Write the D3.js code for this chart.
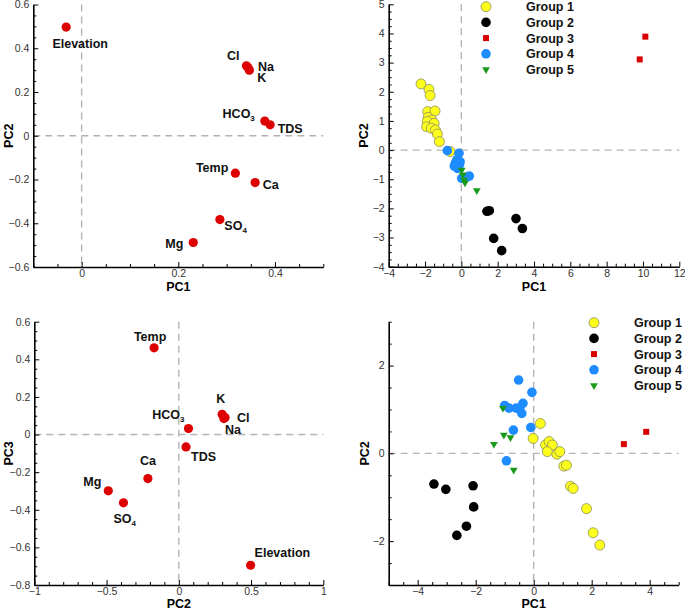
<!DOCTYPE html>
<html><head><meta charset="utf-8">
<script src="https://cdn.jsdelivr.net/npm/d3@7"></script>
<style>
body{margin:0;background:#fff}
svg text{font-family:"Liberation Sans",Arial,Helvetica,sans-serif}
</style></head><body>
<svg id="c" width="685" height="608"></svg>
<script>
// ---------- DATA ----------
const variables = ["Elevation","Cl","Na","K","HCO3","TDS","Temp","Ca","SO4","Mg"];
const loadPC1 = [-0.032,0.341,0.344,0.347,0.379,0.390,0.318,0.359,0.286,0.231];
const loadPC2 = [0.497,0.320,0.312,0.300,0.067,0.050,-0.171,-0.214,-0.383,-0.488];
const loadPC3 = [-0.695,0.090,0.085,0.108,0.032,-0.066,0.461,-0.234,-0.363,-0.299];

const groupNames = ["Group 1","Group 2","Group 3","Group 4","Group 5"];

// top-right score plot (PC1 vs PC2)
const topGroup1 = [[-2.22,2.27],[-1.78,2.08],[-1.72,1.87],[-1.85,1.32],[-1.45,1.34],[-1.83,1.12],[-1.63,1.03],[-1.88,0.98],[-1.91,0.80],[-1.50,0.92],[-1.65,0.75],[-1.43,0.69],[-1.32,0.55],[-1.21,0.29],[-0.62,-0.05]];
const topGroup2 = [[1.41,-2.10],[1.54,-2.08],[3.01,-2.35],[3.36,-2.69],[1.78,-3.03],[2.22,-3.45]];
const topGroup3 = [[10.13,3.89],[9.82,3.11]];
const topGroup4 = [[-0.77,-0.02],[-0.13,-0.11],[-0.25,-0.34],[-0.07,-0.40],[-0.33,-0.45],[-0.39,-0.55],[-0.22,-0.63],[0.44,-0.89],[0.30,-0.93],[0.02,-0.97],[-0.10,-0.50]];
const topGroup5 = [[0.02,-0.68],[0.08,-0.85],[0.15,-1.03],[0.20,-1.12],[0.85,-1.39]];

// bottom-right score plot
const botGroup1 = [[0.23,0.68],[-0.02,0.34],[0.41,0.19],[0.53,0.27],[0.64,0.19],[0.47,0.04],[0.80,-0.02],[0.90,0.04],[1.04,-0.29],[1.13,-0.27],[1.27,-0.75],[1.36,-0.80],[1.82,-1.26],[2.05,-1.81],[2.28,-2.09]];
const botGroup2 = [[-3.44,-0.70],[-3.03,-0.82],[-2.09,-0.74],[-2.07,-1.22],[-2.32,-1.66],[-2.65,-1.87]];
const botGroup3 = [[3.11,0.21],[3.88,0.49]];
const botGroup4 = [[-0.52,1.67],[-0.06,1.39],[-1.00,1.09],[-0.85,1.03],[-0.37,1.14],[-0.48,1.01],[-0.41,0.91],[-0.60,1.03],[-0.70,0.53],[-0.10,0.59],[-0.94,-0.17]];
const botGroup5 = [[-1.06,1.03],[-1.37,0.21],[-1.03,0.42],[-0.80,0.36],[-0.69,-0.38]];

// tick values
const p1XTicks = [0,0.2,0.4], p1YTicks = [-0.6,-0.4,-0.2,0,0.2,0.4,0.6];
const p2XTicks = [-4,-2,0,2,4,6,8,10,12], p2YTicks = [-4,-3,-2,-1,0,1,2,3,4,5];
const p3XTicks = [-1,-0.5,0,0.5,1], p3YTicks = [-0.8,-0.6,-0.4,-0.2,0,0.2,0.4,0.6];
const p4XTicks = [-4,-2,0,2,4], p4YTicks = [-2,0,2];

// ---------- STYLE / LAYOUT ----------
const groupStyle = [
  {shape:"circle", fill:"#ffff1e", stroke:"#8c8c5a", r:5},
  {shape:"circle", fill:"#000000", stroke:"none", r:4.8},
  {shape:"square", fill:"#d80000", stroke:"none", size:36},
  {shape:"circle", fill:"#1e8cff", stroke:"none", r:4.8},
  {shape:"triangle", fill:"#1a9a1a", stroke:"none", size:26}
];
const labelPosTop = {
  Elevation:[14,21,"middle"], Cl:[-7,-6,"end"], Na:[10,3,"start"], K:[8,12,"start"],
  HCO3:[-10,-3,"end"], TDS:[7.5,8.5,"start"], Temp:[-7,-1,"end"], Ca:[7.5,6.5,"start"],
  SO4:[4.5,10,"start"], Mg:[-10,5.5,"end"]
};
const labelPosBot = {
  Elevation:[4,-8,"start"], Cl:[12,4,"start"], Na:[1,15.5,"start"], K:[-1.5,-11,"middle"],
  HCO3:[-4,-9.5,"end"], TDS:[5,14,"start"], Temp:[-4,-7,"middle"], Ca:[0,-13.5,"middle"],
  SO4:[-10,20,"start"], Mg:[-7,-4.5,"end"]
};

const svg = d3.select("#c");

function range(a,b,s){const out=[];for(let v=a;v<=b+1e-9;v+=s)out.push(+v.toFixed(6));return out;}

function makePanel(o){
  const xs = d3.scaleLinear().domain(o.xd).range([o.x0,o.x1]);
  const ys = d3.scaleLinear().domain(o.yd).range([o.y1,o.y0]);
  const g = svg.append("g");
  g.append("line").attr("x1",xs(0)).attr("x2",xs(0)).attr("y1",o.y0).attr("y2",o.y1)
    .attr("stroke","#b4b4b4").attr("stroke-width",1.4).attr("stroke-dasharray","7,5");
  g.append("line").attr("x1",o.x0).attr("x2",o.x1).attr("y1",ys(0)).attr("y2",ys(0))
    .attr("stroke","#b4b4b4").attr("stroke-width",1.4).attr("stroke-dasharray","7,5");
  const fmt = d => (Math.abs(d)<1e-9 ? "0" : d3.format("")(+d.toFixed(2)));
  const minorX = range(o.xd[0],o.xd[1],o.mx).filter(v=>!o.xt.some(t=>Math.abs(t-v)<1e-9));
  const minorY = range(o.yd[0],o.yd[1],o.my).filter(v=>!o.yt.some(t=>Math.abs(t-v)<1e-9));
  const ax = g.append("g").attr("transform",`translate(0,${o.y1})`);
  ax.append("g").call(d3.axisBottom(xs).tickValues(minorX).tickSize(-3).tickFormat("")).call(s=>s.select(".domain").remove());
  ax.append("g").call(d3.axisBottom(xs).tickValues(o.xt).tickSize(-5).tickSizeOuter(0).tickPadding(3).tickFormat(fmt));
  const ay = g.append("g").attr("transform",`translate(${o.x0},0)`);
  ay.append("g").call(d3.axisLeft(ys).tickValues(minorY).tickSize(-3).tickFormat("")).call(s=>s.select(".domain").remove());
  ay.append("g").call(d3.axisLeft(ys).tickValues(o.yt).tickSize(-5).tickSizeOuter(0).tickPadding(4).tickFormat(fmt));
  g.selectAll(".domain").attr("stroke","#000").attr("stroke-width",1.6);
  g.selectAll(".tick line").attr("stroke","#000").attr("stroke-width",1);
  g.selectAll(".tick text").attr("font-size",10.5).attr("fill","#333");
  g.append("text").attr("x",(o.x0+o.x1)/2).attr("y",o.xtY).attr("text-anchor","middle")
    .attr("font-size",12.5).attr("font-weight","bold").text(o.xlab);
  g.append("text").attr("transform",`translate(${o.ytX},${(o.y0+o.y1)/2}) rotate(-90)`).attr("text-anchor","middle")
    .attr("font-size",12.5).attr("font-weight","bold").text(o.ylab);
  return {g,xs,ys};
}

function addLabel(g,x,y,name,pos){
  const t = g.append("text").attr("x",x+pos[0]).attr("y",y+pos[1]).attr("text-anchor",pos[2])
    .attr("font-size",12.5).attr("font-weight","bold").attr("fill","#111");
  if(name==="HCO3"||name==="SO4"){
    t.append("tspan").text(name.slice(0,-1));
    t.append("tspan").attr("font-size",8).attr("dy",3).text(name.slice(-1));
  } else t.text(name);
}

function loadingPanel(o, xv, yv, lp){
  const {g,xs,ys} = makePanel(o);
  variables.forEach((v,i)=>{
    g.append("circle").attr("cx",xs(xv[i])).attr("cy",ys(yv[i])).attr("r",4.6).attr("fill","#dd0000");
  });
  variables.forEach((v,i)=>addLabel(g,xs(xv[i]),ys(yv[i]),v,lp[v]));
}

function drawMarker(g,x,y,st){
  if(st.shape==="circle"){
    g.append("circle").attr("cx",x).attr("cy",y).attr("r",st.r).attr("fill",st.fill)
      .attr("stroke",st.stroke).attr("stroke-width",0.8);
  } else {
    const sym = st.shape==="square" ? d3.symbolSquare : d3.symbolTriangle;
    g.append("path").attr("d",d3.symbol(sym,st.size)())
      .attr("transform",`translate(${x},${y})`+(st.shape==="triangle"?" rotate(180)":""))
      .attr("fill",st.fill);
  }
}

function scorePanel(o, groups, leg){
  const {g,xs,ys} = makePanel(o);
  groups.forEach((pts,gi)=>pts.forEach(p=>drawMarker(g,xs(p[0]),ys(p[1]),groupStyle[gi])));
  groupNames.forEach((n,i)=>{
    const y = leg.y + i*leg.dy;
    drawMarker(g,leg.mx,y,groupStyle[i]);
    g.append("text").attr("x",leg.tx).attr("y",y+4.5).attr("font-size",12.5).attr("font-weight","bold")
      .attr("fill","#111").text(n);
  });
}

loadingPanel({x0:33.3,x1:323.3,y0:4.5,y1:267,xd:[-0.1,0.5],yd:[-0.6,0.6],xt:p1XTicks,yt:p1YTicks,mx:0.05,my:0.05,
  xlab:"PC1",ylab:"PC2",xtY:290.5,ytX:12.5}, loadPC1, loadPC2, labelPosTop);

scorePanel({x0:388.7,x1:679.3,y0:4.3,y1:266.7,xd:[-4,12],yd:[-4,5],xt:p2XTicks,yt:p2YTicks,mx:0.5,my:0.25,
  xlab:"PC1",ylab:"PC2",xtY:291,ytX:368},
  [topGroup1,topGroup2,topGroup3,topGroup4,topGroup5], {mx:486,tx:526,y:6.7,dy:15.7});

loadingPanel({x0:34.3,x1:323.3,y0:321.7,y1:585,xd:[-1,1],yd:[-0.8,0.6],xt:p3XTicks,yt:p3YTicks,mx:0.1,my:0.05,
  xlab:"PC2",ylab:"PC3",xtY:608,ytX:12.5}, loadPC2, loadPC3, labelPosBot);

scorePanel({x0:388.7,x1:678.7,y0:321.7,y1:585,xd:[-5,5],yd:[-3,3],xt:p4XTicks,yt:p4YTicks,mx:0.5,my:0.5,
  xlab:"PC1",ylab:"PC2",xtY:607.5,ytX:369},
  [botGroup1,botGroup2,botGroup3,botGroup4,botGroup5], {mx:594,tx:634,y:322.7,dy:15.7});
</script>
</body></html>
